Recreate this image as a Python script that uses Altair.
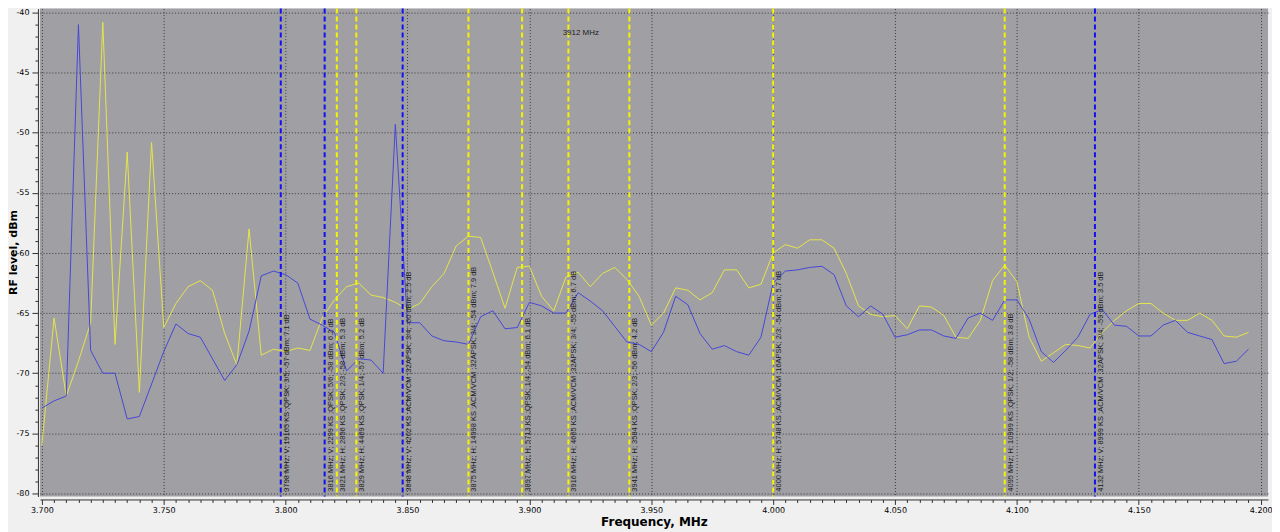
import altair as alt
import pandas as pd

# ---------------- data ----------------
FREQ_MHZ = [
    3700, 3705, 3710, 3715, 3720, 3725, 3730, 3735, 3740, 3745,
    3750, 3755, 3760, 3765, 3770, 3775, 3780, 3785, 3790, 3795,
    3800, 3805, 3810, 3815, 3820, 3825, 3830, 3835, 3840, 3845,
    3850, 3855, 3860, 3865, 3870, 3875, 3880, 3885, 3890, 3895,
    3900, 3905, 3910, 3915, 3920, 3925, 3930, 3935, 3940, 3945,
    3950, 3955, 3960, 3965, 3970, 3975, 3980, 3985, 3990, 3995,
    4000, 4005, 4010, 4015, 4020, 4025, 4030, 4035, 4040, 4045,
    4050, 4055, 4060, 4065, 4070, 4075, 4080, 4085, 4090, 4095,
    4100, 4105, 4110, 4115, 4120, 4125, 4130, 4135, 4140, 4145,
    4150, 4155, 4160, 4165, 4170, 4175, 4180, 4185, 4190, 4195,
]

LEVEL_V = [
    -72.9, -72.3, -71.9, -41.0, -68.1, -70.0, -70.0, -73.8, -73.6, -70.9,
    -68.2, -65.9, -66.7, -67.0, -68.8, -70.6, -69.3, -66.5, -61.9, -61.5,
    -61.8, -62.5, -65.5, -66.0, -66.6, -69.8, -68.8, -68.9, -70.0, -49.3,
    -65.8, -65.8, -66.9, -67.3, -67.4, -67.6, -65.3, -64.8, -66.3, -66.2,
    -64.1, -64.4, -65.0, -65.0, -63.3, -64.0, -64.8, -66.1, -67.4, -67.6,
    -68.2, -66.6, -63.6, -64.3, -66.7, -68.0, -67.7, -68.2, -68.5, -67.0,
    -62.5, -61.5, -61.4, -61.2, -61.1, -61.8, -64.4, -65.3, -64.4, -65.1,
    -67.0, -66.8, -66.4, -66.4, -66.9, -67.1, -65.4, -65.0, -65.6, -63.9,
    -63.9, -65.5, -68.2, -69.1, -68.1, -67.0, -65.1, -64.7, -66.0, -66.1,
    -66.9, -66.9, -66.0, -65.6, -66.6, -66.9, -67.2, -69.2, -69.0, -68.0,
]

LEVEL_H = [
    -76.0, -65.4, -71.9, -69.0, -65.8, -40.8, -67.6, -51.6, -71.6, -50.8,
    -66.2, -64.2, -62.8, -62.3, -63.1, -66.7, -69.3, -58.0, -68.5, -68.0,
    -68.2, -67.9, -68.1, -65.4, -63.9, -62.8, -62.5, -63.5, -63.7, -64.1,
    -64.7, -64.2, -62.8, -61.7, -59.4, -58.6, -58.7, -61.6, -64.6, -61.2,
    -61.1, -63.6, -64.8, -62.0, -61.6, -62.8, -61.7, -61.2, -62.2, -63.6,
    -66.0, -65.0, -62.9, -63.1, -63.9, -63.3, -61.4, -61.4, -62.9, -62.6,
    -60.0, -59.3, -59.6, -58.9, -58.9, -59.6, -61.7, -64.4, -65.1, -65.3,
    -65.2, -66.3, -64.4, -64.5, -65.2, -67.0, -67.1, -65.6, -62.3, -61.0,
    -62.4, -67.0, -69.0, -68.3, -67.6, -67.7, -67.9, -66.6, -65.6, -64.8,
    -64.2, -64.2, -65.0, -65.6, -65.6, -65.0, -65.6, -66.9, -67.0, -66.6,
]

MARKER_MHZ = [3798, 3816, 3821, 3829, 3848, 3875, 3897, 3916, 3941, 4000, 4095, 4132]
MARKER_POL = ["V", "V", "H", "H", "V", "H", "H", "H", "H", "H", "H", "V"]
MARKER_TEXT = [
    "3798 MHz; V; 19165 KS ;QPSK; 3/5; -57 dBm; 7.1 dB",
    "3816 MHz; V; 2299 KS ;QPSK; 5/6; -58 dBm; 6.2 dB",
    "3821 MHz; H; 2856 KS ;QPSK; 2/3; -58 dBm; 5.3 dB",
    "3829 MHz; H; 4469 KS ;QPSK; 1/4; -57 dBm; 5.2 dB",
    "3848 MHz; V; 4202 KS ;ACM/VCM ;32APSK; 3/4; -60 dBm; 2.5 dB",
    "3875 MHz; H; 14998 KS ;ACM/VCM ;32APSK; 3/4; -54 dBm; 7.9 dB",
    "3897 MHz; H; 5713 KS ;QPSK; 1/4; -54 dBm; 6.1 dB",
    "3916 MHz; H; 4665 KS ;ACM/VCM ;32APSK; 3/4; -55 dBm; 6.7 dB",
    "3941 MHz; H; 3584 KS ;QPSK; 2/3; -56 dBm; 4.2 dB",
    "4000 MHz; H; 5748 KS ;ACM/VCM ;16APSK; 2/3; -54 dBm; 5.7 dB",
    "4095 MHz; H; 10999 KS ;QPSK; 1/2; -58 dBm; 3.8 dB",
    "4132 MHz; V; 8999 KS ;ACM/VCM ;32APSK; 3/4; -59 dBm; 3.5 dB",
]

CURSOR_MHZ = [3912]
CURSOR_TEXT = ["3912 MHz"]
CURSOR_LEVEL = [-41.7]

X_TICKS = [(3700 + 5 * i) / 1000 for i in range(101)]
Y_TICKS = list(range(-80, -39))

# ---------------- tables ----------------
freq = [f / 1000 for f in FREQ_MHZ]
df_v = pd.DataFrame({"freq": freq, "level": LEVEL_V})
df_h = pd.DataFrame({"freq": freq, "level": LEVEL_H})
df_m = pd.DataFrame({"freq": [m / 1000 for m in MARKER_MHZ], "pol": MARKER_POL, "text": MARKER_TEXT})
df_c = pd.DataFrame({"freq": [m / 1000 for m in CURSOR_MHZ], "level": CURSOR_LEVEL, "text": CURSOR_TEXT})

major_x = "abs(datum.value*20 - round(datum.value*20)) < 0.001"
major_y = "datum.value % 5 === 0"

x_scale = alt.Scale(domain=[3.6992, 4.2030], nice=False, zero=False)
y_scale = alt.Scale(domain=[-80.25, -39.67], nice=False, zero=False)

x_axis = alt.Axis(
    values=X_TICKS,
    tickCount=500,
    title="Frequency, MHz",
    labelExpr=f"({major_x}) ? format(datum.value, '.3f') : ''",
    tickSize={"condition": {"test": major_x, "value": 5}, "value": 3},
    gridOpacity={"condition": {"test": major_x, "value": 1}, "value": 0},
    labelOverlap=False,
    labelFlush=False,
    offset=3,
    labelPadding=2,
    titleFontSize=12,
    titlePadding=2,
)
y_axis = alt.Axis(
    values=Y_TICKS,
    tickCount=500,
    title="RF level, dBm",
    labelExpr=f"({major_y}) ? ('' + datum.value) : ''",
    tickSize={"condition": {"test": major_y, "value": 6}, "value": 3},
    gridOpacity={"condition": {"test": major_y, "value": 1}, "value": 0},
    labelOverlap=False,
    labelFlush=False,
    offset=2,
    labelPadding=3,
    titleFontSize=11,
    titleX=-19,
    titleY=244,
    titleAngle=270,
    titleBaseline="bottom",
    titleAlign="center",
)

X = alt.X("freq:Q", scale=x_scale, axis=x_axis)
Y = alt.Y("level:Q", scale=y_scale, axis=y_axis)

line_h = alt.Chart(df_h).mark_line(color="#e4e44c", strokeWidth=1).encode(x=X, y=Y)
line_v = alt.Chart(df_v).mark_line(color="#4646d8", strokeWidth=1).encode(x=X, y=Y)

rules = alt.Chart(df_m).mark_rule(strokeDash=[5, 3], strokeWidth=2).encode(
    x=alt.X("freq:Q", scale=x_scale),
    color=alt.Color("pol:N", scale=alt.Scale(domain=["H", "V"], range=["#f4f400", "#1010f0"]), legend=None),
)

labels = alt.Chart(df_m).mark_text(
    angle=270, align="left", baseline="top", dy=2,
    font="Liberation Sans", fontSize=7.5, color="#1a1a1a",
).encode(
    x=alt.X("freq:Q", scale=x_scale),
    y=alt.datum(-79.85),
    text="text:N",
)

cursor = alt.Chart(df_c).mark_text(
    align="left", baseline="middle", dx=4,
    font="Liberation Sans", fontSize=8, color="#1a1a1a",
).encode(
    x=alt.X("freq:Q", scale=x_scale),
    y=alt.Y("level:Q", scale=y_scale),
    text="text:N",
)

chart = (
    alt.layer(line_h, line_v, rules, labels, cursor)
    .properties(
        width=1231,
        height=489,
        autosize=alt.AutoSizeParams(type="none"),
        padding={"left": 32, "top": 0, "right": 4, "bottom": 35},
        background="#f0f0f0",
    )
    .configure_view(fill="#a0a0a4", strokeWidth=0)
    .configure_axis(
        domainColor="#303030",
        tickColor="#303030",
        labelColor="#000000",
        labelFont="DejaVu Sans",
        labelFontSize=8,
        titleFont="DejaVu Sans",
        titleFontWeight="bold",
        titleColor="#000000",
        gridColor="#3a3a3a",
        gridDash=[1, 2],
        gridWidth=1,
    )
)

chart.save("out.html", embed_options={"renderer": "svg", "actions": False})
